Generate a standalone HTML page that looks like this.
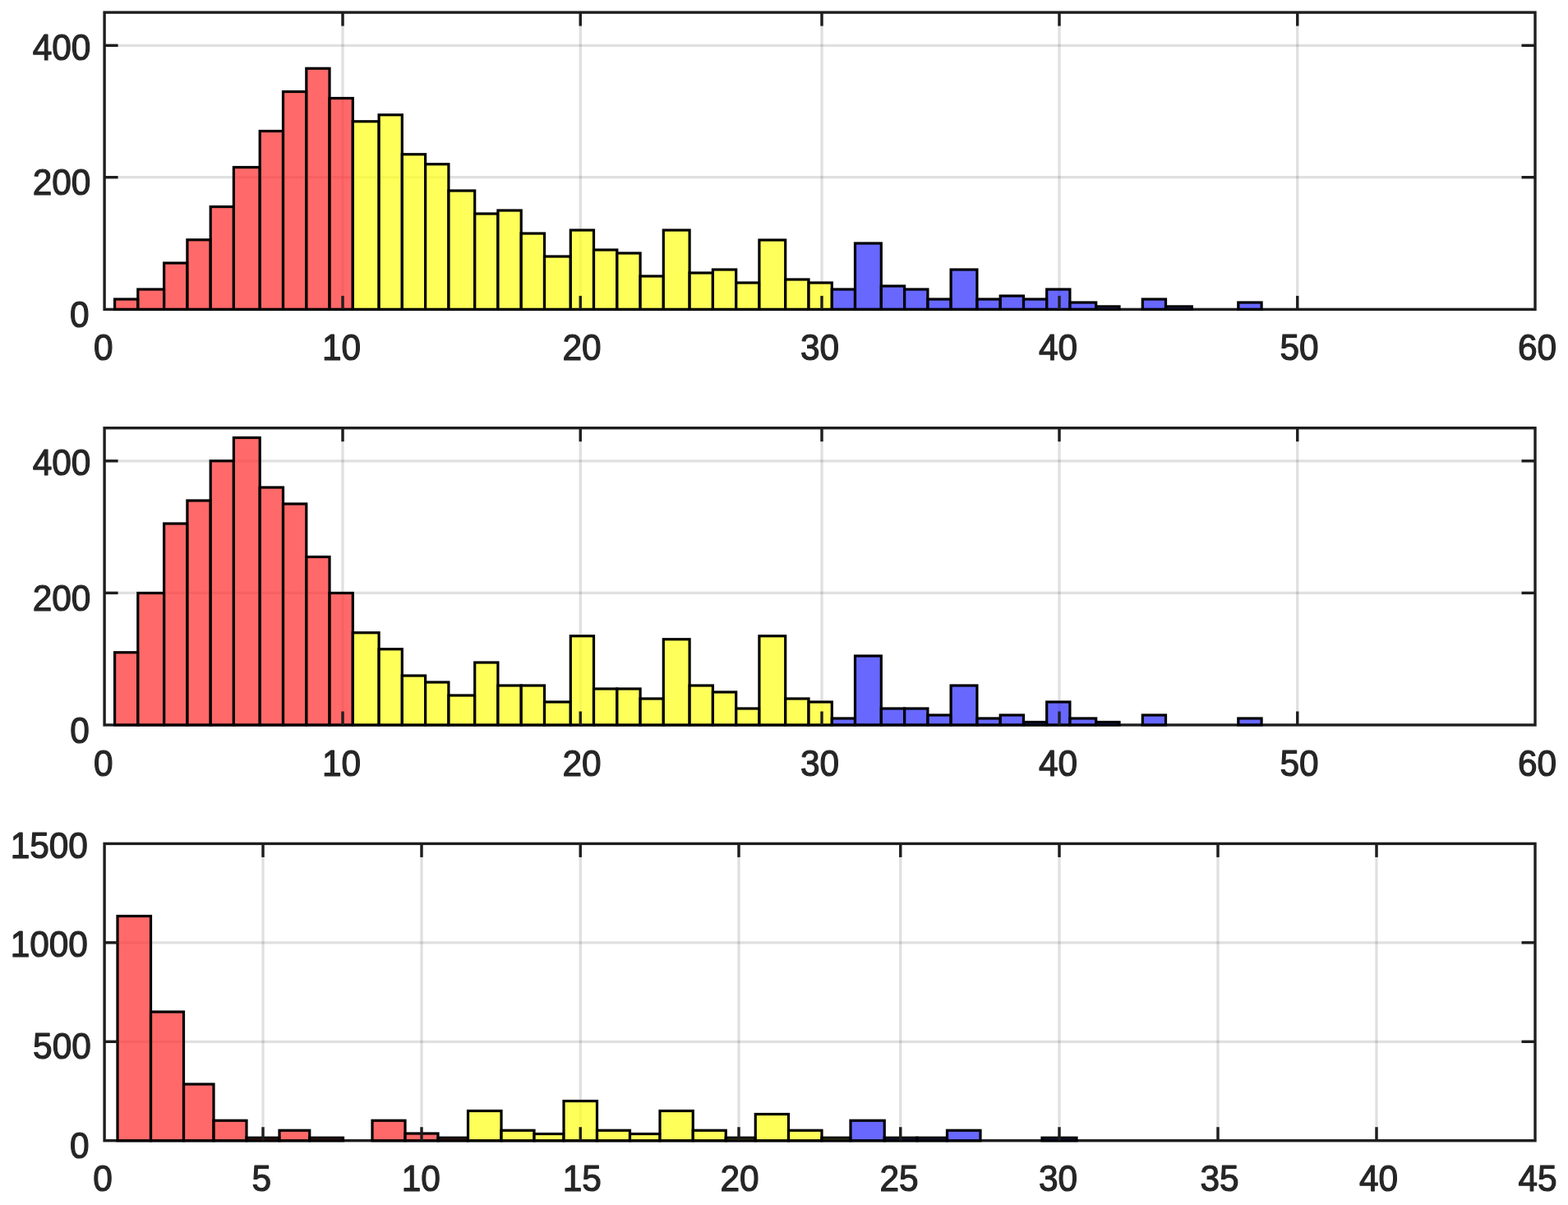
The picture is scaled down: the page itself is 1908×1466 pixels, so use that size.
<!DOCTYPE html>
<html><head><meta charset="utf-8"><title>Histograms</title>
<style>
html,body{margin:0;padding:0;background:#fff;}
svg{display:block;filter:blur(0.7px);}
text{font-family:"Liberation Sans",sans-serif;font-size:43.5px;fill:#262626;stroke:#262626;stroke-width:1.2px;stroke-linejoin:round;}
</style></head>
<body>
<svg width="1908" height="1466" viewBox="0 0 1908 1466">
<rect width="1908" height="1466" fill="#fff"/>
<line x1="417.00" y1="15.1" x2="417.00" y2="376.4" stroke="#262626" stroke-opacity="0.14" stroke-width="3.3"/>
<line x1="706.25" y1="15.1" x2="706.25" y2="376.4" stroke="#262626" stroke-opacity="0.14" stroke-width="3.3"/>
<line x1="1000.00" y1="15.1" x2="1000.00" y2="376.4" stroke="#262626" stroke-opacity="0.14" stroke-width="3.3"/>
<line x1="1289.00" y1="15.1" x2="1289.00" y2="376.4" stroke="#262626" stroke-opacity="0.14" stroke-width="3.3"/>
<line x1="1578.75" y1="15.1" x2="1578.75" y2="376.4" stroke="#262626" stroke-opacity="0.14" stroke-width="3.3"/>
<line x1="127.1" y1="55.30" x2="1868" y2="55.30" stroke="#262626" stroke-opacity="0.14" stroke-width="3.3"/>
<line x1="127.1" y1="215.70" x2="1868" y2="215.70" stroke="#262626" stroke-opacity="0.14" stroke-width="3.3"/>
<rect x="127.1" y="15.1" width="1740.9" height="361.29999999999995" fill="none" stroke="#1e1e1e" stroke-width="3.4"/>
<rect x="139.60" y="364.00" width="28.20" height="12.40" fill="#ff3737" fill-opacity="0.75" stroke="#000" stroke-width="3.2"/>
<rect x="167.80" y="352.00" width="31.80" height="24.40" fill="#ff3737" fill-opacity="0.75" stroke="#000" stroke-width="3.2"/>
<rect x="199.60" y="320.00" width="28.30" height="56.40" fill="#ff3737" fill-opacity="0.75" stroke="#000" stroke-width="3.2"/>
<rect x="227.90" y="291.75" width="28.30" height="84.65" fill="#ff3737" fill-opacity="0.75" stroke="#000" stroke-width="3.2"/>
<rect x="256.20" y="251.50" width="28.20" height="124.90" fill="#ff3737" fill-opacity="0.75" stroke="#000" stroke-width="3.2"/>
<rect x="284.40" y="203.50" width="31.80" height="172.90" fill="#ff3737" fill-opacity="0.75" stroke="#000" stroke-width="3.2"/>
<rect x="316.20" y="159.50" width="28.30" height="216.90" fill="#ff3737" fill-opacity="0.75" stroke="#000" stroke-width="3.2"/>
<rect x="344.50" y="111.50" width="28.30" height="264.90" fill="#ff3737" fill-opacity="0.75" stroke="#000" stroke-width="3.2"/>
<rect x="372.80" y="83.25" width="28.20" height="293.15" fill="#ff3737" fill-opacity="0.75" stroke="#000" stroke-width="3.2"/>
<rect x="401.00" y="119.50" width="28.30" height="256.90" fill="#ff3737" fill-opacity="0.75" stroke="#000" stroke-width="3.2"/>
<rect x="429.30" y="147.75" width="31.80" height="228.65" fill="#ffff23" fill-opacity="0.75" stroke="#000" stroke-width="3.2"/>
<rect x="461.10" y="139.75" width="28.20" height="236.65" fill="#ffff23" fill-opacity="0.75" stroke="#000" stroke-width="3.2"/>
<rect x="489.30" y="187.75" width="28.30" height="188.65" fill="#ffff23" fill-opacity="0.75" stroke="#000" stroke-width="3.2"/>
<rect x="517.60" y="199.75" width="28.30" height="176.65" fill="#ffff23" fill-opacity="0.75" stroke="#000" stroke-width="3.2"/>
<rect x="545.90" y="232.00" width="31.80" height="144.40" fill="#ffff23" fill-opacity="0.75" stroke="#000" stroke-width="3.2"/>
<rect x="577.70" y="260.00" width="28.20" height="116.40" fill="#ffff23" fill-opacity="0.75" stroke="#000" stroke-width="3.2"/>
<rect x="605.90" y="256.00" width="28.30" height="120.40" fill="#ffff23" fill-opacity="0.75" stroke="#000" stroke-width="3.2"/>
<rect x="634.20" y="284.00" width="28.30" height="92.40" fill="#ffff23" fill-opacity="0.75" stroke="#000" stroke-width="3.2"/>
<rect x="662.50" y="312.00" width="31.80" height="64.40" fill="#ffff23" fill-opacity="0.75" stroke="#000" stroke-width="3.2"/>
<rect x="694.30" y="280.00" width="28.20" height="96.40" fill="#ffff23" fill-opacity="0.75" stroke="#000" stroke-width="3.2"/>
<rect x="722.50" y="304.00" width="28.30" height="72.40" fill="#ffff23" fill-opacity="0.75" stroke="#000" stroke-width="3.2"/>
<rect x="750.80" y="308.00" width="28.30" height="68.40" fill="#ffff23" fill-opacity="0.75" stroke="#000" stroke-width="3.2"/>
<rect x="779.10" y="336.00" width="28.20" height="40.40" fill="#ffff23" fill-opacity="0.75" stroke="#000" stroke-width="3.2"/>
<rect x="807.30" y="280.00" width="31.80" height="96.40" fill="#ffff23" fill-opacity="0.75" stroke="#000" stroke-width="3.2"/>
<rect x="839.10" y="332.00" width="28.30" height="44.40" fill="#ffff23" fill-opacity="0.75" stroke="#000" stroke-width="3.2"/>
<rect x="867.40" y="328.00" width="28.30" height="48.40" fill="#ffff23" fill-opacity="0.75" stroke="#000" stroke-width="3.2"/>
<rect x="895.70" y="344.00" width="28.20" height="32.40" fill="#ffff23" fill-opacity="0.75" stroke="#000" stroke-width="3.2"/>
<rect x="923.90" y="292.00" width="31.80" height="84.40" fill="#ffff23" fill-opacity="0.75" stroke="#000" stroke-width="3.2"/>
<rect x="955.70" y="340.00" width="28.30" height="36.40" fill="#ffff23" fill-opacity="0.75" stroke="#000" stroke-width="3.2"/>
<rect x="984.00" y="344.00" width="28.30" height="32.40" fill="#ffff23" fill-opacity="0.75" stroke="#000" stroke-width="3.2"/>
<rect x="1012.30" y="352.00" width="28.20" height="24.40" fill="#3636ff" fill-opacity="0.75" stroke="#000" stroke-width="3.2"/>
<rect x="1040.50" y="296.00" width="31.80" height="80.40" fill="#3636ff" fill-opacity="0.75" stroke="#000" stroke-width="3.2"/>
<rect x="1072.30" y="348.00" width="28.30" height="28.40" fill="#3636ff" fill-opacity="0.75" stroke="#000" stroke-width="3.2"/>
<rect x="1100.60" y="352.00" width="28.30" height="24.40" fill="#3636ff" fill-opacity="0.75" stroke="#000" stroke-width="3.2"/>
<rect x="1128.90" y="364.00" width="28.20" height="12.40" fill="#3636ff" fill-opacity="0.75" stroke="#000" stroke-width="3.2"/>
<rect x="1157.10" y="328.00" width="31.80" height="48.40" fill="#3636ff" fill-opacity="0.75" stroke="#000" stroke-width="3.2"/>
<rect x="1188.90" y="364.00" width="28.30" height="12.40" fill="#3636ff" fill-opacity="0.75" stroke="#000" stroke-width="3.2"/>
<rect x="1217.20" y="360.00" width="28.30" height="16.40" fill="#3636ff" fill-opacity="0.75" stroke="#000" stroke-width="3.2"/>
<rect x="1245.50" y="364.00" width="28.20" height="12.40" fill="#3636ff" fill-opacity="0.75" stroke="#000" stroke-width="3.2"/>
<rect x="1273.70" y="352.00" width="28.20" height="24.40" fill="#3636ff" fill-opacity="0.75" stroke="#000" stroke-width="3.2"/>
<rect x="1301.90" y="368.00" width="31.80" height="8.40" fill="#3636ff" fill-opacity="0.75" stroke="#000" stroke-width="3.2"/>
<rect x="1333.70" y="372.90" width="28.30" height="3.50" fill="#3636ff" fill-opacity="0.75" stroke="#000" stroke-width="3.2"/>
<rect x="1390.30" y="364.00" width="28.20" height="12.40" fill="#3636ff" fill-opacity="0.75" stroke="#000" stroke-width="3.2"/>
<rect x="1418.50" y="372.90" width="31.80" height="3.50" fill="#3636ff" fill-opacity="0.75" stroke="#000" stroke-width="3.2"/>
<rect x="1506.80" y="368.00" width="28.30" height="8.40" fill="#3636ff" fill-opacity="0.75" stroke="#000" stroke-width="3.2"/>
<line x1="417.00" y1="376.40" x2="417.00" y2="359.90" stroke="#1e1e1e" stroke-width="3.4"/>
<line x1="417.00" y1="15.10" x2="417.00" y2="31.60" stroke="#1e1e1e" stroke-width="3.4"/>
<line x1="706.25" y1="376.40" x2="706.25" y2="359.90" stroke="#1e1e1e" stroke-width="3.4"/>
<line x1="706.25" y1="15.10" x2="706.25" y2="31.60" stroke="#1e1e1e" stroke-width="3.4"/>
<line x1="1000.00" y1="376.40" x2="1000.00" y2="359.90" stroke="#1e1e1e" stroke-width="3.4"/>
<line x1="1000.00" y1="15.10" x2="1000.00" y2="31.60" stroke="#1e1e1e" stroke-width="3.4"/>
<line x1="1289.00" y1="376.40" x2="1289.00" y2="359.90" stroke="#1e1e1e" stroke-width="3.4"/>
<line x1="1289.00" y1="15.10" x2="1289.00" y2="31.60" stroke="#1e1e1e" stroke-width="3.4"/>
<line x1="1578.75" y1="376.40" x2="1578.75" y2="359.90" stroke="#1e1e1e" stroke-width="3.4"/>
<line x1="1578.75" y1="15.10" x2="1578.75" y2="31.60" stroke="#1e1e1e" stroke-width="3.4"/>
<line x1="127.10" y1="55.30" x2="143.60" y2="55.30" stroke="#1e1e1e" stroke-width="3.4"/>
<line x1="1868.00" y1="55.30" x2="1851.50" y2="55.30" stroke="#1e1e1e" stroke-width="3.4"/>
<line x1="127.10" y1="215.70" x2="143.60" y2="215.70" stroke="#1e1e1e" stroke-width="3.4"/>
<line x1="1868.00" y1="215.70" x2="1851.50" y2="215.70" stroke="#1e1e1e" stroke-width="3.4"/>
<line x1="417.00" y1="520.7" x2="417.00" y2="882.0" stroke="#262626" stroke-opacity="0.14" stroke-width="3.3"/>
<line x1="706.25" y1="520.7" x2="706.25" y2="882.0" stroke="#262626" stroke-opacity="0.14" stroke-width="3.3"/>
<line x1="1000.00" y1="520.7" x2="1000.00" y2="882.0" stroke="#262626" stroke-opacity="0.14" stroke-width="3.3"/>
<line x1="1289.00" y1="520.7" x2="1289.00" y2="882.0" stroke="#262626" stroke-opacity="0.14" stroke-width="3.3"/>
<line x1="1578.75" y1="520.7" x2="1578.75" y2="882.0" stroke="#262626" stroke-opacity="0.14" stroke-width="3.3"/>
<line x1="127.1" y1="560.80" x2="1868" y2="560.80" stroke="#262626" stroke-opacity="0.14" stroke-width="3.3"/>
<line x1="127.1" y1="721.40" x2="1868" y2="721.40" stroke="#262626" stroke-opacity="0.14" stroke-width="3.3"/>
<rect x="127.1" y="520.7" width="1740.9" height="361.29999999999995" fill="none" stroke="#1e1e1e" stroke-width="3.4"/>
<rect x="139.60" y="793.75" width="28.20" height="88.25" fill="#ff3737" fill-opacity="0.75" stroke="#000" stroke-width="3.2"/>
<rect x="167.80" y="721.50" width="31.80" height="160.50" fill="#ff3737" fill-opacity="0.75" stroke="#000" stroke-width="3.2"/>
<rect x="199.60" y="637.00" width="28.30" height="245.00" fill="#ff3737" fill-opacity="0.75" stroke="#000" stroke-width="3.2"/>
<rect x="227.90" y="609.00" width="28.30" height="273.00" fill="#ff3737" fill-opacity="0.75" stroke="#000" stroke-width="3.2"/>
<rect x="256.20" y="560.75" width="28.20" height="321.25" fill="#ff3737" fill-opacity="0.75" stroke="#000" stroke-width="3.2"/>
<rect x="284.40" y="532.50" width="31.80" height="349.50" fill="#ff3737" fill-opacity="0.75" stroke="#000" stroke-width="3.2"/>
<rect x="316.20" y="593.00" width="28.30" height="289.00" fill="#ff3737" fill-opacity="0.75" stroke="#000" stroke-width="3.2"/>
<rect x="344.50" y="613.00" width="28.30" height="269.00" fill="#ff3737" fill-opacity="0.75" stroke="#000" stroke-width="3.2"/>
<rect x="372.80" y="677.50" width="28.20" height="204.50" fill="#ff3737" fill-opacity="0.75" stroke="#000" stroke-width="3.2"/>
<rect x="401.00" y="721.50" width="28.30" height="160.50" fill="#ff3737" fill-opacity="0.75" stroke="#000" stroke-width="3.2"/>
<rect x="429.30" y="769.75" width="31.80" height="112.25" fill="#ffff23" fill-opacity="0.75" stroke="#000" stroke-width="3.2"/>
<rect x="461.10" y="789.75" width="28.20" height="92.25" fill="#ffff23" fill-opacity="0.75" stroke="#000" stroke-width="3.2"/>
<rect x="489.30" y="822.00" width="28.30" height="60.00" fill="#ffff23" fill-opacity="0.75" stroke="#000" stroke-width="3.2"/>
<rect x="517.60" y="830.00" width="28.30" height="52.00" fill="#ffff23" fill-opacity="0.75" stroke="#000" stroke-width="3.2"/>
<rect x="545.90" y="846.00" width="31.80" height="36.00" fill="#ffff23" fill-opacity="0.75" stroke="#000" stroke-width="3.2"/>
<rect x="577.70" y="806.00" width="28.20" height="76.00" fill="#ffff23" fill-opacity="0.75" stroke="#000" stroke-width="3.2"/>
<rect x="605.90" y="834.00" width="28.30" height="48.00" fill="#ffff23" fill-opacity="0.75" stroke="#000" stroke-width="3.2"/>
<rect x="634.20" y="834.00" width="28.30" height="48.00" fill="#ffff23" fill-opacity="0.75" stroke="#000" stroke-width="3.2"/>
<rect x="662.50" y="854.00" width="31.80" height="28.00" fill="#ffff23" fill-opacity="0.75" stroke="#000" stroke-width="3.2"/>
<rect x="694.30" y="773.75" width="28.20" height="108.25" fill="#ffff23" fill-opacity="0.75" stroke="#000" stroke-width="3.2"/>
<rect x="722.50" y="838.00" width="28.30" height="44.00" fill="#ffff23" fill-opacity="0.75" stroke="#000" stroke-width="3.2"/>
<rect x="750.80" y="838.00" width="28.30" height="44.00" fill="#ffff23" fill-opacity="0.75" stroke="#000" stroke-width="3.2"/>
<rect x="779.10" y="850.00" width="28.20" height="32.00" fill="#ffff23" fill-opacity="0.75" stroke="#000" stroke-width="3.2"/>
<rect x="807.30" y="777.75" width="31.80" height="104.25" fill="#ffff23" fill-opacity="0.75" stroke="#000" stroke-width="3.2"/>
<rect x="839.10" y="834.00" width="28.30" height="48.00" fill="#ffff23" fill-opacity="0.75" stroke="#000" stroke-width="3.2"/>
<rect x="867.40" y="842.00" width="28.30" height="40.00" fill="#ffff23" fill-opacity="0.75" stroke="#000" stroke-width="3.2"/>
<rect x="895.70" y="862.00" width="28.20" height="20.00" fill="#ffff23" fill-opacity="0.75" stroke="#000" stroke-width="3.2"/>
<rect x="923.90" y="773.75" width="31.80" height="108.25" fill="#ffff23" fill-opacity="0.75" stroke="#000" stroke-width="3.2"/>
<rect x="955.70" y="850.00" width="28.30" height="32.00" fill="#ffff23" fill-opacity="0.75" stroke="#000" stroke-width="3.2"/>
<rect x="984.00" y="854.00" width="28.30" height="28.00" fill="#ffff23" fill-opacity="0.75" stroke="#000" stroke-width="3.2"/>
<rect x="1012.30" y="874.00" width="28.20" height="8.00" fill="#3636ff" fill-opacity="0.75" stroke="#000" stroke-width="3.2"/>
<rect x="1040.50" y="798.00" width="31.80" height="84.00" fill="#3636ff" fill-opacity="0.75" stroke="#000" stroke-width="3.2"/>
<rect x="1072.30" y="862.00" width="28.30" height="20.00" fill="#3636ff" fill-opacity="0.75" stroke="#000" stroke-width="3.2"/>
<rect x="1100.60" y="862.00" width="28.30" height="20.00" fill="#3636ff" fill-opacity="0.75" stroke="#000" stroke-width="3.2"/>
<rect x="1128.90" y="870.00" width="28.20" height="12.00" fill="#3636ff" fill-opacity="0.75" stroke="#000" stroke-width="3.2"/>
<rect x="1157.10" y="834.00" width="31.80" height="48.00" fill="#3636ff" fill-opacity="0.75" stroke="#000" stroke-width="3.2"/>
<rect x="1188.90" y="874.00" width="28.30" height="8.00" fill="#3636ff" fill-opacity="0.75" stroke="#000" stroke-width="3.2"/>
<rect x="1217.20" y="870.00" width="28.30" height="12.00" fill="#3636ff" fill-opacity="0.75" stroke="#000" stroke-width="3.2"/>
<rect x="1245.50" y="878.50" width="28.20" height="3.50" fill="#3636ff" fill-opacity="0.75" stroke="#000" stroke-width="3.2"/>
<rect x="1273.70" y="854.00" width="28.20" height="28.00" fill="#3636ff" fill-opacity="0.75" stroke="#000" stroke-width="3.2"/>
<rect x="1301.90" y="874.00" width="31.80" height="8.00" fill="#3636ff" fill-opacity="0.75" stroke="#000" stroke-width="3.2"/>
<rect x="1333.70" y="878.50" width="28.30" height="3.50" fill="#3636ff" fill-opacity="0.75" stroke="#000" stroke-width="3.2"/>
<rect x="1390.30" y="870.00" width="28.20" height="12.00" fill="#3636ff" fill-opacity="0.75" stroke="#000" stroke-width="3.2"/>
<rect x="1506.80" y="874.00" width="28.30" height="8.00" fill="#3636ff" fill-opacity="0.75" stroke="#000" stroke-width="3.2"/>
<line x1="417.00" y1="882.00" x2="417.00" y2="865.50" stroke="#1e1e1e" stroke-width="3.4"/>
<line x1="417.00" y1="520.70" x2="417.00" y2="537.20" stroke="#1e1e1e" stroke-width="3.4"/>
<line x1="706.25" y1="882.00" x2="706.25" y2="865.50" stroke="#1e1e1e" stroke-width="3.4"/>
<line x1="706.25" y1="520.70" x2="706.25" y2="537.20" stroke="#1e1e1e" stroke-width="3.4"/>
<line x1="1000.00" y1="882.00" x2="1000.00" y2="865.50" stroke="#1e1e1e" stroke-width="3.4"/>
<line x1="1000.00" y1="520.70" x2="1000.00" y2="537.20" stroke="#1e1e1e" stroke-width="3.4"/>
<line x1="1289.00" y1="882.00" x2="1289.00" y2="865.50" stroke="#1e1e1e" stroke-width="3.4"/>
<line x1="1289.00" y1="520.70" x2="1289.00" y2="537.20" stroke="#1e1e1e" stroke-width="3.4"/>
<line x1="1578.75" y1="882.00" x2="1578.75" y2="865.50" stroke="#1e1e1e" stroke-width="3.4"/>
<line x1="1578.75" y1="520.70" x2="1578.75" y2="537.20" stroke="#1e1e1e" stroke-width="3.4"/>
<line x1="127.10" y1="560.80" x2="143.60" y2="560.80" stroke="#1e1e1e" stroke-width="3.4"/>
<line x1="1868.00" y1="560.80" x2="1851.50" y2="560.80" stroke="#1e1e1e" stroke-width="3.4"/>
<line x1="127.10" y1="721.40" x2="143.60" y2="721.40" stroke="#1e1e1e" stroke-width="3.4"/>
<line x1="1868.00" y1="721.40" x2="1851.50" y2="721.40" stroke="#1e1e1e" stroke-width="3.4"/>
<line x1="320.00" y1="1026.4" x2="320.00" y2="1387.7" stroke="#262626" stroke-opacity="0.14" stroke-width="3.3"/>
<line x1="513.00" y1="1026.4" x2="513.00" y2="1387.7" stroke="#262626" stroke-opacity="0.14" stroke-width="3.3"/>
<line x1="706.25" y1="1026.4" x2="706.25" y2="1387.7" stroke="#262626" stroke-opacity="0.14" stroke-width="3.3"/>
<line x1="899.00" y1="1026.4" x2="899.00" y2="1387.7" stroke="#262626" stroke-opacity="0.14" stroke-width="3.3"/>
<line x1="1095.75" y1="1026.4" x2="1095.75" y2="1387.7" stroke="#262626" stroke-opacity="0.14" stroke-width="3.3"/>
<line x1="1289.00" y1="1026.4" x2="1289.00" y2="1387.7" stroke="#262626" stroke-opacity="0.14" stroke-width="3.3"/>
<line x1="1482.00" y1="1026.4" x2="1482.00" y2="1387.7" stroke="#262626" stroke-opacity="0.14" stroke-width="3.3"/>
<line x1="1675.00" y1="1026.4" x2="1675.00" y2="1387.7" stroke="#262626" stroke-opacity="0.14" stroke-width="3.3"/>
<line x1="127.1" y1="1146.80" x2="1868" y2="1146.80" stroke="#262626" stroke-opacity="0.14" stroke-width="3.3"/>
<line x1="127.1" y1="1267.30" x2="1868" y2="1267.30" stroke="#262626" stroke-opacity="0.14" stroke-width="3.3"/>
<rect x="127.1" y="1026.4" width="1740.9" height="361.29999999999995" fill="none" stroke="#1e1e1e" stroke-width="3.4"/>
<rect x="143.00" y="1114.50" width="40.50" height="273.20" fill="#ff3737" fill-opacity="0.75" stroke="#000" stroke-width="3.2"/>
<rect x="183.50" y="1231.00" width="40.00" height="156.70" fill="#ff3737" fill-opacity="0.75" stroke="#000" stroke-width="3.2"/>
<rect x="223.50" y="1319.00" width="36.50" height="68.70" fill="#ff3737" fill-opacity="0.75" stroke="#000" stroke-width="3.2"/>
<rect x="260.00" y="1363.25" width="40.00" height="24.45" fill="#ff3737" fill-opacity="0.75" stroke="#000" stroke-width="3.2"/>
<rect x="300.00" y="1384.20" width="40.00" height="3.50" fill="#ff3737" fill-opacity="0.75" stroke="#000" stroke-width="3.2"/>
<rect x="340.00" y="1375.25" width="36.75" height="12.45" fill="#ff3737" fill-opacity="0.75" stroke="#000" stroke-width="3.2"/>
<rect x="376.75" y="1384.20" width="40.75" height="3.50" fill="#ff3737" fill-opacity="0.75" stroke="#000" stroke-width="3.2"/>
<rect x="453.00" y="1363.25" width="40.00" height="24.45" fill="#ff3737" fill-opacity="0.75" stroke="#000" stroke-width="3.2"/>
<rect x="493.00" y="1379.00" width="40.00" height="8.70" fill="#ff3737" fill-opacity="0.75" stroke="#000" stroke-width="3.2"/>
<rect x="533.00" y="1384.20" width="36.50" height="3.50" fill="#ff3737" fill-opacity="0.75" stroke="#000" stroke-width="3.2"/>
<rect x="569.50" y="1351.50" width="40.50" height="36.20" fill="#ffff23" fill-opacity="0.75" stroke="#000" stroke-width="3.2"/>
<rect x="610.00" y="1375.25" width="40.00" height="12.45" fill="#ffff23" fill-opacity="0.75" stroke="#000" stroke-width="3.2"/>
<rect x="650.00" y="1379.50" width="36.00" height="8.20" fill="#ffff23" fill-opacity="0.75" stroke="#000" stroke-width="3.2"/>
<rect x="686.00" y="1339.50" width="40.50" height="48.20" fill="#ffff23" fill-opacity="0.75" stroke="#000" stroke-width="3.2"/>
<rect x="726.50" y="1375.25" width="40.00" height="12.45" fill="#ffff23" fill-opacity="0.75" stroke="#000" stroke-width="3.2"/>
<rect x="766.50" y="1379.50" width="36.50" height="8.20" fill="#ffff23" fill-opacity="0.75" stroke="#000" stroke-width="3.2"/>
<rect x="803.00" y="1351.50" width="40.25" height="36.20" fill="#ffff23" fill-opacity="0.75" stroke="#000" stroke-width="3.2"/>
<rect x="843.25" y="1375.25" width="40.00" height="12.45" fill="#ffff23" fill-opacity="0.75" stroke="#000" stroke-width="3.2"/>
<rect x="883.25" y="1384.20" width="36.00" height="3.50" fill="#ffff23" fill-opacity="0.75" stroke="#000" stroke-width="3.2"/>
<rect x="919.25" y="1355.50" width="40.25" height="32.20" fill="#ffff23" fill-opacity="0.75" stroke="#000" stroke-width="3.2"/>
<rect x="959.50" y="1375.25" width="40.50" height="12.45" fill="#ffff23" fill-opacity="0.75" stroke="#000" stroke-width="3.2"/>
<rect x="1000.00" y="1384.20" width="35.00" height="3.50" fill="#ffff23" fill-opacity="0.75" stroke="#000" stroke-width="3.2"/>
<rect x="1035.00" y="1363.25" width="41.25" height="24.45" fill="#3636ff" fill-opacity="0.75" stroke="#000" stroke-width="3.2"/>
<rect x="1076.25" y="1384.20" width="39.75" height="3.50" fill="#3636ff" fill-opacity="0.75" stroke="#000" stroke-width="3.2"/>
<rect x="1116.00" y="1384.20" width="36.50" height="3.50" fill="#3636ff" fill-opacity="0.75" stroke="#000" stroke-width="3.2"/>
<rect x="1152.50" y="1375.25" width="40.50" height="12.45" fill="#3636ff" fill-opacity="0.75" stroke="#000" stroke-width="3.2"/>
<rect x="1268.00" y="1384.20" width="42.00" height="3.50" fill="#3636ff" fill-opacity="0.75" stroke="#000" stroke-width="3.2"/>
<line x1="320.00" y1="1387.70" x2="320.00" y2="1371.20" stroke="#1e1e1e" stroke-width="3.4"/>
<line x1="320.00" y1="1026.40" x2="320.00" y2="1042.90" stroke="#1e1e1e" stroke-width="3.4"/>
<line x1="513.00" y1="1387.70" x2="513.00" y2="1371.20" stroke="#1e1e1e" stroke-width="3.4"/>
<line x1="513.00" y1="1026.40" x2="513.00" y2="1042.90" stroke="#1e1e1e" stroke-width="3.4"/>
<line x1="706.25" y1="1387.70" x2="706.25" y2="1371.20" stroke="#1e1e1e" stroke-width="3.4"/>
<line x1="706.25" y1="1026.40" x2="706.25" y2="1042.90" stroke="#1e1e1e" stroke-width="3.4"/>
<line x1="899.00" y1="1387.70" x2="899.00" y2="1371.20" stroke="#1e1e1e" stroke-width="3.4"/>
<line x1="899.00" y1="1026.40" x2="899.00" y2="1042.90" stroke="#1e1e1e" stroke-width="3.4"/>
<line x1="1095.75" y1="1387.70" x2="1095.75" y2="1371.20" stroke="#1e1e1e" stroke-width="3.4"/>
<line x1="1095.75" y1="1026.40" x2="1095.75" y2="1042.90" stroke="#1e1e1e" stroke-width="3.4"/>
<line x1="1289.00" y1="1387.70" x2="1289.00" y2="1371.20" stroke="#1e1e1e" stroke-width="3.4"/>
<line x1="1289.00" y1="1026.40" x2="1289.00" y2="1042.90" stroke="#1e1e1e" stroke-width="3.4"/>
<line x1="1482.00" y1="1387.70" x2="1482.00" y2="1371.20" stroke="#1e1e1e" stroke-width="3.4"/>
<line x1="1482.00" y1="1026.40" x2="1482.00" y2="1042.90" stroke="#1e1e1e" stroke-width="3.4"/>
<line x1="1675.00" y1="1387.70" x2="1675.00" y2="1371.20" stroke="#1e1e1e" stroke-width="3.4"/>
<line x1="1675.00" y1="1026.40" x2="1675.00" y2="1042.90" stroke="#1e1e1e" stroke-width="3.4"/>
<line x1="127.10" y1="1146.80" x2="143.60" y2="1146.80" stroke="#1e1e1e" stroke-width="3.4"/>
<line x1="1868.00" y1="1146.80" x2="1851.50" y2="1146.80" stroke="#1e1e1e" stroke-width="3.4"/>
<line x1="127.10" y1="1267.30" x2="143.60" y2="1267.30" stroke="#1e1e1e" stroke-width="3.4"/>
<line x1="1868.00" y1="1267.30" x2="1851.50" y2="1267.30" stroke="#1e1e1e" stroke-width="3.4"/>
<text transform="translate(125.75 438.10) scale(0.975 1)" text-anchor="middle">0</text>
<text transform="translate(415.50 438.10) scale(0.975 1)" text-anchor="middle">10</text>
<text transform="translate(708.00 438.10) scale(0.975 1)" text-anchor="middle">20</text>
<text transform="translate(997.50 438.10) scale(0.975 1)" text-anchor="middle">30</text>
<text transform="translate(1287.50 438.10) scale(0.975 1)" text-anchor="middle">40</text>
<text transform="translate(1581.00 438.10) scale(0.975 1)" text-anchor="middle">50</text>
<text transform="translate(1870.50 438.10) scale(0.975 1)" text-anchor="middle">60</text>
<text transform="translate(125.75 943.90) scale(0.975 1)" text-anchor="middle">0</text>
<text transform="translate(415.50 943.90) scale(0.975 1)" text-anchor="middle">10</text>
<text transform="translate(708.00 943.90) scale(0.975 1)" text-anchor="middle">20</text>
<text transform="translate(997.50 943.90) scale(0.975 1)" text-anchor="middle">30</text>
<text transform="translate(1287.50 943.90) scale(0.975 1)" text-anchor="middle">40</text>
<text transform="translate(1581.00 943.90) scale(0.975 1)" text-anchor="middle">50</text>
<text transform="translate(1870.50 943.90) scale(0.975 1)" text-anchor="middle">60</text>
<text transform="translate(125.00 1449.00) scale(0.975 1)" text-anchor="middle">0</text>
<text transform="translate(318.25 1449.00) scale(0.975 1)" text-anchor="middle">5</text>
<text transform="translate(512.25 1449.00) scale(0.975 1)" text-anchor="middle">10</text>
<text transform="translate(708.25 1449.00) scale(0.975 1)" text-anchor="middle">15</text>
<text transform="translate(900.00 1449.00) scale(0.975 1)" text-anchor="middle">20</text>
<text transform="translate(1094.00 1449.00) scale(0.975 1)" text-anchor="middle">25</text>
<text transform="translate(1287.50 1449.00) scale(0.975 1)" text-anchor="middle">30</text>
<text transform="translate(1484.00 1449.00) scale(0.975 1)" text-anchor="middle">35</text>
<text transform="translate(1677.50 1449.00) scale(0.975 1)" text-anchor="middle">40</text>
<text transform="translate(1871.00 1449.00) scale(0.975 1)" text-anchor="middle">45</text>
<text transform="translate(75.00 73.05) scale(0.975 1)" text-anchor="middle">400</text>
<text transform="translate(75.00 237.00) scale(0.975 1)" text-anchor="middle">200</text>
<text transform="translate(96.70 398.20) scale(0.975 1)" text-anchor="middle">0</text>
<text transform="translate(75.00 578.30) scale(0.975 1)" text-anchor="middle">400</text>
<text transform="translate(75.00 742.50) scale(0.975 1)" text-anchor="middle">200</text>
<text transform="translate(97.00 903.70) scale(0.975 1)" text-anchor="middle">0</text>
<text transform="translate(59.80 1043.50) scale(0.975 1)" text-anchor="middle">1500</text>
<text transform="translate(59.80 1164.30) scale(0.975 1)" text-anchor="middle">1000</text>
<text transform="translate(75.45 1288.45) scale(0.975 1)" text-anchor="middle">500</text>
<text transform="translate(96.80 1409.40) scale(0.975 1)" text-anchor="middle">0</text>
</svg>
</body></html>
